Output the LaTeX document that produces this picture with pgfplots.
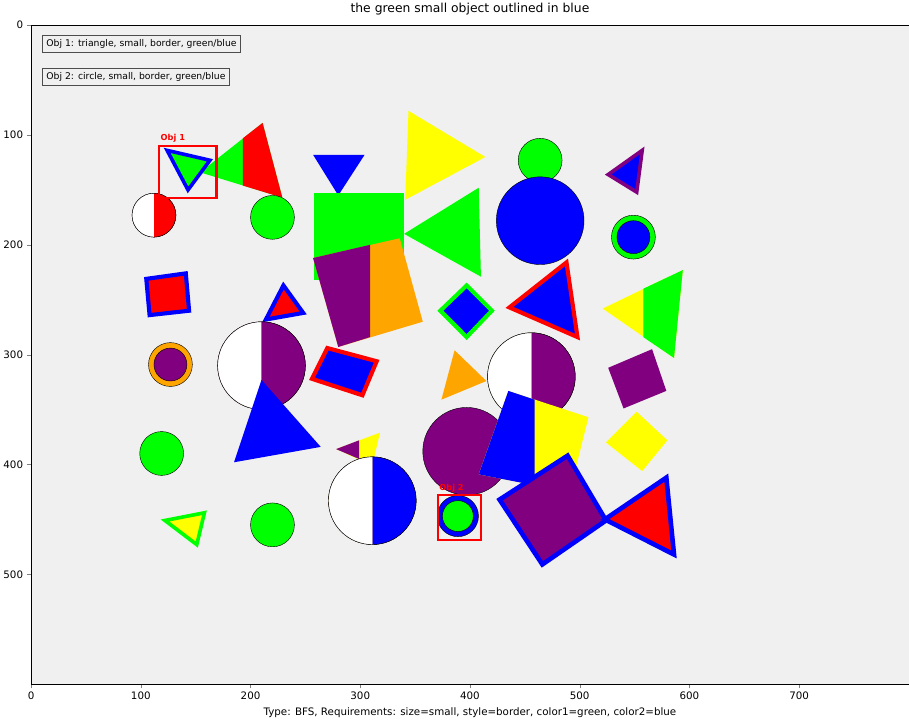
\documentclass[border=0pt]{standalone}
\usepackage{pgfplots}
\pgfplotsset{compat=1.18}
\usepackage{fontspec}
\setmainfont{DejaVu Sans}
\usetikzlibrary{plotmarks}
\definecolor{bg}{HTML}{F0F0F0}
\definecolor{gr}{HTML}{00FF00}
\definecolor{bl}{HTML}{0000FF}
\definecolor{rd}{HTML}{FF0000}
\definecolor{pu}{HTML}{800080}
\definecolor{ye}{HTML}{FFFF00}
\definecolor{orn}{HTML}{FFA500}
\begin{document}
\begin{tikzpicture}
\begin{axis}[x=1.066pt,y=1.067pt,y dir=reverse,
 xmin=0,xmax=800,ymin=0,ymax=600,
 xtick={0,100,...,700},ytick={0,100,...,500},
 tick align=outside, xtick pos=bottom, ytick pos=left,
 /pgf/number format/assume math mode=true,
 tick label style={font=\fontsize{10}{12}\selectfont},
 axis background/.style={fill=bg},
 title={the green small object outlined in blue},
 title style={font=\fontsize{12}{14}\selectfont},
 clip mode=individual, line join=miter]
% polygons
\addplot[fill=gr,draw=none] coordinates {(211,89)(154,134)(229,157)} -- cycle;
\addplot[fill=rd,draw=none] coordinates {(193,103)(211,89)(229,157)(193,146)} -- cycle;
\addplot[fill=gr,draw=bl,line width=3.5pt] coordinates {(124,114)(163,123)(143,150)} -- cycle;
\addplot[fill=bl,draw=none] coordinates {(257,118)(304,118)(280,155)} -- cycle;
\addplot[fill=ye,draw=none] coordinates {(344,78)(414,120)(341,159)} -- cycle;
\addplot[fill=bl,draw=pu,line width=3.5pt] coordinates {(557,114)(526,136)(552,152)} -- cycle;
\addplot[fill=gr,draw=none] coordinates {(258,153)(340,153)(340,207)(258,207)} -- cycle;
\addplot[fill=gr,draw=none] coordinates {(258,180)(280,180)(280,232)(258,232)} -- cycle;
\addplot[fill=gr,draw=none] coordinates {(408,148)(340,190)(410,229)} -- cycle;
\addplot[fill=rd,draw=bl,line width=4pt] coordinates {(105,231)(141,226)(144,260)(108,264)} -- cycle;
\addplot[fill=rd,draw=bl,line width=4pt] coordinates {(230,237)(214,268)(248,262)} -- cycle;
\addplot[fill=orn,draw=none] coordinates {(257,212)(336,194)(357,270)(280,293)} -- cycle;
\addplot[fill=pu,draw=none] coordinates {(257,212)(309,200)(309,284)(280,293)} -- cycle;
\addplot[fill=bl,draw=gr,line width=4pt] coordinates {(397,237)(420,260)(397,284)(373,260)} -- cycle;
\addplot[fill=bl,draw=rd,line width=4pt] coordinates {(488,216)(498,284)(436,257)} -- cycle;
\addplot[fill=ye,draw=none] coordinates {(594,223)(521,258)(586,303)} -- cycle;
\addplot[fill=gr,draw=none] coordinates {(558,240)(594,223)(586,303)(558,284)} -- cycle;
\addplot[fill=bl,draw=rd,line width=4pt] coordinates {(270,294)(315,306)(302,337)(256,322)} -- cycle;
\addplot[fill=orn,draw=none] coordinates {(386,296)(415,324)(374,341)} -- cycle;
\addplot[fill=pu,draw=none] coordinates {(526,312)(566,295)(579,333)(540,349)} -- cycle;
\addplot[fill=ye,draw=none] coordinates {(278,386)(318,371)(311,401)} -- cycle;
\addplot[fill=pu,draw=none] coordinates {(278,386)(299,378)(299,395)} -- cycle;
% circles
\addplot[only marks,mark=*,mark size=21.3pt,mark options={draw=none,fill=gr}] coordinates {(464,123)(220,175)(549,193)(119,390)(220,455)};
\addplot[only marks,mark=*,mark size=42.6pt,mark options={draw=none,fill=bl}] coordinates {(464,178)};
\addplot[only marks,mark=*,mark size=16pt,mark options={draw=none,fill=bl}] coordinates {(549,193)};
\addplot[only marks,mark=*,mark size=21.3pt,mark options={draw=none,fill=pu}] coordinates {(112,173)};
\addplot[only marks,mark=halfcircle*,mark size=21.3pt,mark options={rotate=-90,draw=none,fill=rd}] coordinates {(112,173)};
\addplot[only marks,mark=*,mark size=21.3pt,mark options={draw=none,fill=orn}] coordinates {(127,309)};
\addplot[only marks,mark=*,mark size=16pt,mark options={draw=none,fill=pu}] coordinates {(127,309)};
\addplot[only marks,mark=*,mark size=42.6pt,mark options={draw=none,fill=rd}] coordinates {(210,310)};
\addplot[only marks,mark=halfcircle*,mark size=42.6pt,mark options={rotate=-90,draw=none,fill=pu}] coordinates {(210,310)};
\addplot[only marks,mark=*,mark size=42.6pt,mark options={draw=none,fill=ye}] coordinates {(456,320)};
\addplot[only marks,mark=halfcircle*,mark size=42.6pt,mark options={rotate=-90,draw=none,fill=pu}] coordinates {(456,320)};
\addplot[fill=bl,draw=none] coordinates {(210,323)(264,384)(185,398)} -- cycle;
\addplot[only marks,mark=*,mark size=42.6pt,mark options={draw=none,fill=pu}] coordinates {(397,388)};
\addplot[fill=ye,draw=none] coordinates {(435,333)(508,357)(491,425)(408,409)} -- cycle;
\addplot[fill=bl,draw=none] coordinates {(435,333)(459,341)(459,419)(408,409)} -- cycle;
\addplot[fill=ye,draw=none] coordinates {(552,352)(580,378)(557,406)(524,380)} -- cycle;
\addplot[only marks,mark=*,mark size=42.6pt,mark options={draw=none,fill=orn}] coordinates {(311,433)};
\addplot[only marks,mark=halfcircle*,mark size=42.6pt,mark options={rotate=-90,draw=none,fill=bl}] coordinates {(311,433)};
\addplot[fill=ye,draw=gr,line width=3.5pt] coordinates {(122,451)(158,444)(151,473)} -- cycle;
\addplot[only marks,mark=*,mark size=20pt,mark options={draw=none,fill=bl}] coordinates {(389,447)};
\addplot[only marks,mark=*,mark size=15pt,mark options={draw=none,fill=gr}] coordinates {(389,447)};
\addplot[fill=pu,draw=bl,line width=4.5pt] coordinates {(489,392)(524,451)(466,491)(427,432)} -- cycle;
\addplot[fill=rd,draw=bl,line width=4.5pt] coordinates {(579,412)(586,482)(523,450)} -- cycle;
% boxes
\addplot[draw=rd,line width=2pt] coordinates {(117,110)(169,110)(169,157)(117,157)} -- cycle;
\addplot[draw=rd,line width=2pt] coordinates {(371,428)(410,428)(410,469)(371,469)} -- cycle;
\node[text=rd,font=\bfseries\fontsize{8}{9}\selectfont,anchor=south west,inner sep=1pt] at (axis cs:117,108) {Obj 1};
\node[text=rd,font=\bfseries\fontsize{8}{9}\selectfont,anchor=south west,inner sep=1pt] at (axis cs:371,426) {Obj 2};
\node[draw=black!70,fill=bg,anchor=west,font=\fontsize{9}{11}\selectfont,inner sep=4pt] at (axis cs:10,17) {Obj 1: triangle, small, border, green/blue};
\node[draw=black!70,fill=bg,anchor=west,font=\fontsize{9}{11}\selectfont,inner sep=4pt] at (axis cs:10,47) {Obj 2: circle, small, border, green/blue};
\node[font=\fontsize{10}{12}\selectfont,anchor=base] at (axis cs:400,629) {Type: BFS, Requirements: size=small, style=border, color1=green, color2=blue};
\end{axis}
\end{tikzpicture}
\end{document}
